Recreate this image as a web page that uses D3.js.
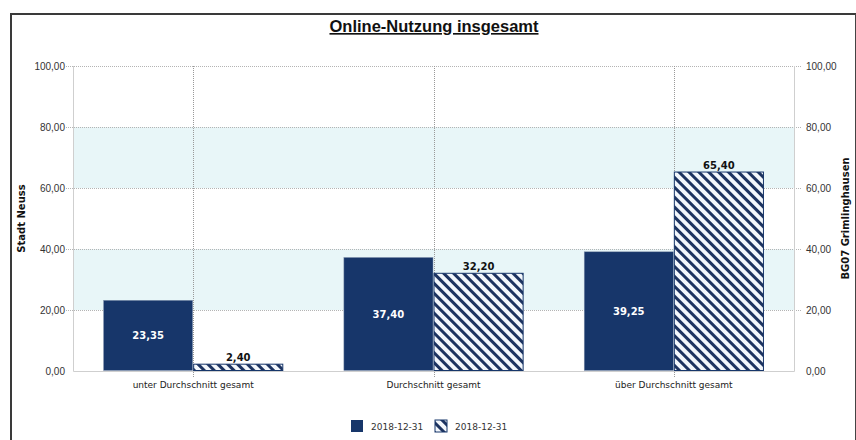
<!DOCTYPE html>
<html><head><meta charset="utf-8">
<script src="https://cdn.jsdelivr.net/npm/d3@7"></script>
<style>body{margin:0;background:#fff}svg{display:block}</style>
</head><body>
<svg id="c" width="856" height="440"></svg>
<script>
const categories = ["unter Durchschnitt gesamt", "Durchschnitt gesamt", "über Durchschnitt gesamt"];
const seriesNames = ["2018-12-31", "2018-12-31"];
const stadtNeuss = [23.35, 37.40, 39.25];
const grimlinghausen = [2.40, 32.20, 65.40];
const yTicks = [0, 20, 40, 60, 80, 100];
const bands = [[20, 40], [60, 80]];
const title = "Online-Nutzung insgesamt";
const leftTitle = "Stadt Neuss";
const rightTitle = "BG07 Grimlinghausen";

const svg = d3.select("#c");
const M = {l: 73, r: 794, t: 66, b: 371};
const navy = "#17366a";
const fmt = v => v.toFixed(2).replace(".", ",");

const defs = svg.append("defs");
const pat = defs.append("pattern").attr("id", "hatch").attr("patternUnits", "userSpaceOnUse")
  .attr("width", 7).attr("height", 7).attr("patternTransform", "rotate(-45)");
pat.append("rect").attr("width", 7).attr("height", 7).attr("fill", "#f3f7fc");
pat.append("rect").attr("x", 0).attr("width", 3).attr("height", 7).attr("fill", "#1d3360");

// frame
svg.append("rect").attr("x", 11).attr("y", 14).attr("width", 850).attr("height", 440)
  .attr("fill", "none").attr("stroke", "#3a3a3a").attr("stroke-width", 2);
svg.append("line").attr("x1", 855.5).attr("x2", 855.5).attr("y1", 14).attr("y2", 440).attr("stroke", "#444");

const x0 = d3.scaleBand().domain(categories).range([M.l, M.r]).paddingInner(0.25).paddingOuter(0.125);
const xc = d3.scaleBand().domain(categories).range([M.l, M.r]);
const x1 = d3.scaleBand().domain([0, 1]).range([0, x0.bandwidth()]);
const y = d3.scaleLinear().domain([0, 100]).range([M.b, M.t]);

// bands
svg.selectAll(".band").data(bands).join("rect")
  .attr("x", M.l).attr("width", M.r - M.l)
  .attr("y", d => y(d[1])).attr("height", d => y(d[0]) - y(d[1]))
  .attr("fill", "#e8f6f8");

// horizontal grid
svg.selectAll(".hg").data(yTicks.filter(d => d > 0)).join("line")
  .attr("x1", M.l - 7).attr("x2", M.r + 7)
  .attr("y1", d => Math.round(y(d)) + 0.5).attr("y2", d => Math.round(y(d)) + 0.5)
  .attr("stroke", "#b4b4b4").attr("stroke-dasharray", "1,1");
// vertical grid at category centers
svg.selectAll(".vg").data(categories).join("line")
  .attr("x1", d => Math.round(xc(d) + xc.bandwidth() / 2) + 0.5)
  .attr("x2", d => Math.round(xc(d) + xc.bandwidth() / 2) + 0.5)
  .attr("y1", M.t).attr("y2", M.b + 6)
  .attr("stroke", "#999").attr("stroke-dasharray", "1,1");

// axis lines
svg.append("path").attr("d", `M${M.l + 0.5},${M.t}V${M.b + 0.5}H${M.r + 0.5}V${M.t}`)
  .attr("fill", "none").attr("stroke", "#cfcfcf");

// bars
const g = svg.append("g");
categories.forEach((c, i) => {
  const vals = [stadtNeuss[i], grimlinghausen[i]];
  vals.forEach((v, j) => {
    const bx = x0(c) + x1(j);
    g.append("rect").attr("x", bx + 0.5).attr("y", y(v) + 0.5)
      .attr("width", x1.bandwidth() - 1).attr("height", y(0) - y(v) - 1)
      .attr("fill", j === 0 ? navy : "url(#hatch)")
      .attr("stroke", j === 0 ? "#8a9ab3" : navy).attr("stroke-width", j === 0 ? 0.5 : 1);
    const lx = bx + x1.bandwidth() / 2;
    if (j === 0) {
      g.append("text").attr("x", lx).attr("y", (y(v) + y(0)) / 2 + 4)
        .attr("text-anchor", "middle").attr("fill", "#fff")
        .attr("font-family", "DejaVu Sans").attr("font-weight", "bold").attr("font-size", 10)
        .text(fmt(v));
    } else {
      g.append("text").attr("x", lx).attr("y", y(v) - 3)
        .attr("text-anchor", "middle").attr("fill", "#111")
        .attr("font-family", "DejaVu Sans").attr("font-weight", "bold").attr("font-size", 10)
        .text(fmt(v));
    }
  });
});

// y tick labels
const tf = "Liberation Sans";
svg.selectAll(".yl").data(yTicks).join("text")
  .attr("x", 65).attr("y", d => y(d) + 4).attr("text-anchor", "end")
  .attr("font-family", tf).attr("font-size", 10).attr("fill", "#333").text(d => fmt(d));
svg.selectAll(".yr").data(yTicks).join("text")
  .attr("x", 806).attr("y", d => y(d) + 4).attr("text-anchor", "start")
  .attr("font-family", tf).attr("font-size", 10).attr("fill", "#333").text(d => fmt(d));

// category labels
svg.selectAll(".cl").data(categories).join("text")
  .attr("x", d => xc(d) + xc.bandwidth() / 2).attr("y", 388).attr("text-anchor", "middle")
  .attr("font-family", "DejaVu Sans").attr("font-size", 9).attr("fill", "#222").text(d => d);

// axis titles
svg.append("text").attr("transform", `translate(25,${(M.t + M.b) / 2}) rotate(-90)`)
  .attr("text-anchor", "middle").attr("font-family", "DejaVu Sans").attr("font-weight", "bold")
  .attr("font-size", 10).attr("fill", "#111").text(leftTitle);
svg.append("text").attr("transform", `translate(849,${(M.t + M.b) / 2}) rotate(-90)`)
  .attr("text-anchor", "middle").attr("font-family", "DejaVu Sans").attr("font-weight", "bold")
  .attr("font-size", 10).attr("fill", "#111").text(rightTitle);

// title
svg.append("text").attr("x", 434).attr("y", 32).attr("text-anchor", "middle")
  .attr("font-family", "Liberation Sans").attr("font-weight", "bold").attr("font-size", 16.5).attr("fill", "#111")
  .attr("text-decoration", "underline").text(title);

// legend
const lg = svg.append("g");
const lx0 = [351, 435];
seriesNames.forEach((s, j) => {
  lg.append("rect").attr("x", lx0[j]).attr("y", 420).attr("width", 12).attr("height", 12)
    .attr("fill", j === 0 ? navy : "url(#hatch)").attr("stroke", j === 0 ? "none" : navy);
  lg.append("text").attr("x", lx0[j] + 20).attr("y", 430).attr("font-family", "DejaVu Sans")
    .attr("font-size", 9).attr("fill", "#333").text(s);
});
</script>
</body></html>
